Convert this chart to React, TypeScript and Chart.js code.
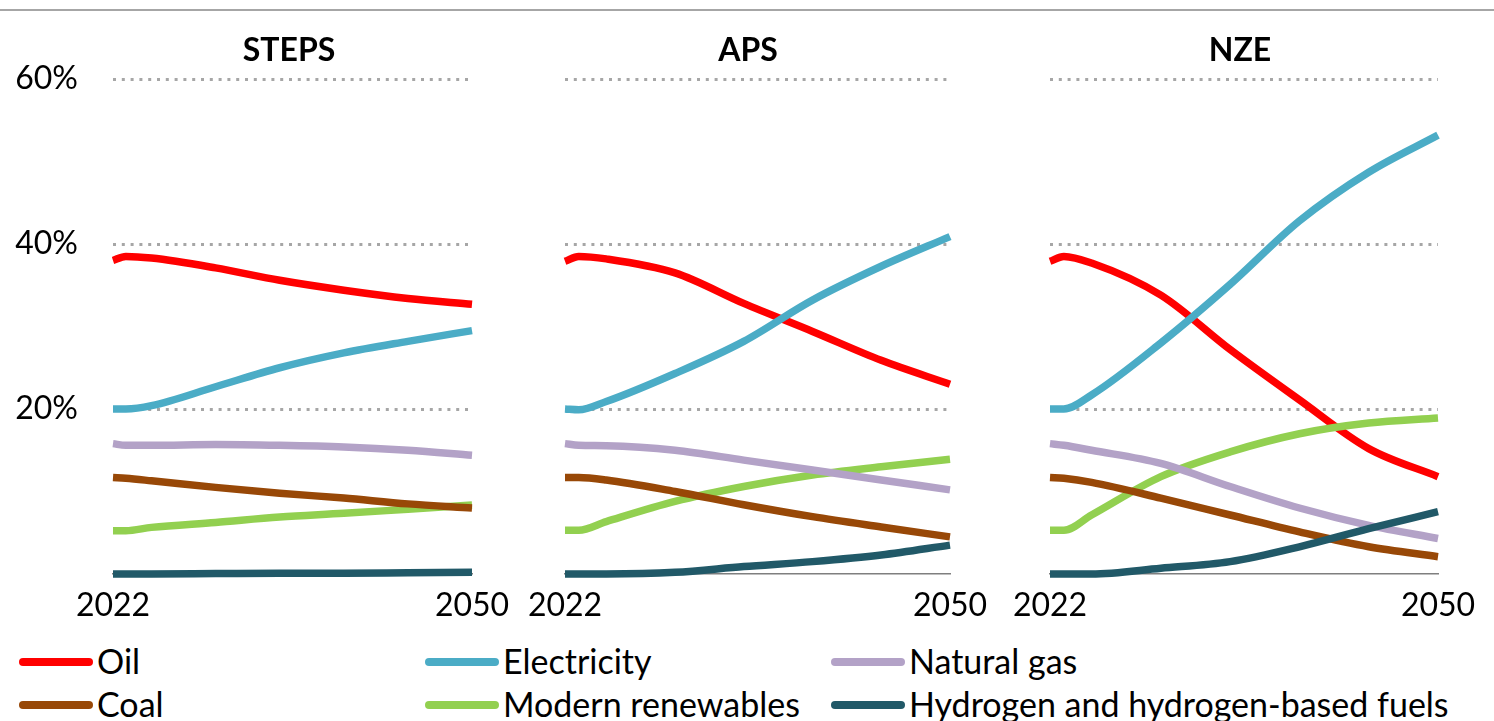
import React, { useEffect, useRef } from "react";
import { Chart, registerables } from "chart.js";

Chart.register(...registerables);

// ---------- DATA ----------
const years = [2022, 2023, 2025, 2030, 2035, 2040, 2045, 2050];
const xTickYears = [2022, 2050];
const yTickValues = [0, 20, 40, 60];

const scenarios = ["STEPS", "APS", "NZE"];
const seriesNames = [
  "Oil",
  "Electricity",
  "Natural gas",
  "Coal",
  "Modern renewables",
  "Hydrogen and hydrogen-based fuels",
];
const seriesColors = ["#FF0000", "#4BACC6", "#B3A2C7", "#984807", "#92D050", "#215968"];

// STEPS (% share)
const stepsOil = [38.0, 38.5, 38.3, 37.1, 35.6, 34.4, 33.4, 32.7];
const stepsElectricity = [20.0, 20.0, 20.4, 22.7, 25.0, 26.8, 28.2, 29.5];
const stepsGas = [15.8, 15.6, 15.6, 15.7, 15.6, 15.4, 15.0, 14.4];
const stepsCoal = [11.7, 11.6, 11.3, 10.5, 9.8, 9.2, 8.5, 8.0];
const stepsRenewables = [5.25, 5.25, 5.65, 6.25, 6.9, 7.35, 7.85, 8.35];
const stepsHydrogen = [0, 0, 0, 0.05, 0.1, 0.1, 0.15, 0.2];

// APS
const apsOil = [37.9, 38.5, 38.2, 36.5, 32.8, 29.4, 25.9, 23.0];
const apsElectricity = [20.0, 19.9, 20.9, 24.3, 28.2, 33.2, 37.3, 40.9];
const apsGas = [15.8, 15.6, 15.55, 15.0, 13.8, 12.6, 11.4, 10.2];
const apsCoal = [11.7, 11.7, 11.4, 10.0, 8.4, 6.95, 5.7, 4.5];
const apsRenewables = [5.3, 5.3, 6.35, 8.8, 10.6, 12.0, 13.0, 13.9];
const apsHydrogen = [0, 0, 0, 0.2, 0.9, 1.5, 2.3, 3.5];

// NZE
const nzeOil = [37.9, 38.5, 37.7, 33.8, 27.2, 21.1, 15.2, 11.8];
const nzeElectricity = [20.0, 20.0, 21.7, 28.0, 35.1, 42.8, 48.7, 53.2];
const nzeGas = [15.8, 15.6, 15.0, 13.4, 10.6, 8.0, 5.9, 4.3];
const nzeCoal = [11.7, 11.6, 11.1, 9.2, 7.15, 5.1, 3.3, 2.1];
const nzeRenewables = [5.3, 5.3, 7.15, 11.8, 14.8, 17.0, 18.3, 18.9];
const nzeHydrogen = [0, 0, 0, 0.7, 1.5, 3.3, 5.5, 7.55];

const scenarioSeries = [
  [stepsOil, stepsElectricity, stepsGas, stepsCoal, stepsRenewables, stepsHydrogen],
  [apsOil, apsElectricity, apsGas, apsCoal, apsRenewables, apsHydrogen],
  [nzeOil, nzeElectricity, nzeGas, nzeCoal, nzeRenewables, nzeHydrogen],
];

// ---------- LAYOUT / STYLE ----------
const FONT = "Lato, 'Open Sans', sans-serif";
const CANVAS_H = 634;
const panels = [
  { left: 0, width: 525, yWidth: 113, padRight: 53, showY: true, titleX: 289 },
  { left: 512, width: 491, yWidth: 53, padRight: 53, showY: false, titleX: 748 },
  { left: 1000, width: 494, yWidth: 50, padRight: 56, showY: false, titleX: 1240 },
];
const legendCols = [19, 425, 831];
const legendRows = [662, 705];

function Panel({ idx }: { idx: number }) {
  const ref = useRef<HTMLCanvasElement | null>(null);
  useEffect(() => {
    const p = panels[idx];
    const datasets = scenarioSeries[idx].map((vals, i) => ({
      label: seriesNames[i],
      data: years.map((yr, j) => ({ x: yr, y: vals[j] })),
      borderColor: seriesColors[i],
      backgroundColor: seriesColors[i],
      borderWidth: 7.5,
      pointRadius: 0,
      cubicInterpolationMode: "monotone" as const,
      borderCapStyle: "butt" as const,
      borderJoinStyle: "round" as const,
      clip: false as any,
    }));
    const ordered = [datasets[5], datasets[3], datasets[2], datasets[4], datasets[1], datasets[0]];
    const chart = new Chart(ref.current!, {
      type: "line",
      data: { datasets: ordered },
      options: {
        animation: false,
        responsive: false,
        events: [],
        layout: { padding: { top: 79, right: p.padRight, bottom: 0, left: 0 } },
        plugins: {
          legend: { display: false },
          tooltip: { enabled: false },
          title: { display: false },
        },
        scales: {
          x: {
            type: "linear",
            min: years[0],
            max: years[years.length - 1],
            afterBuildTicks: (scale: any) => {
              scale.ticks = xTickYears.map((v) => ({ value: v }));
            },
            afterFit: (scale: any) => {
              scale.height = CANVAS_H - 574;
            },
            grid: { display: false, drawTicks: false },
            border: { display: true, color: "#7F7F7F", width: 1.5 },
            ticks: {
              autoSkip: false,
              maxRotation: 0,
              padding: 12,
              color: "#000",
              font: { family: FONT, size: 32 },
              callback: (v: any) => String(v),
            },
          },
          y: {
            type: "linear",
            min: 0,
            max: 60,
            afterBuildTicks: (scale: any) => {
              scale.ticks = yTickValues.map((v) => ({ value: v }));
            },
            afterFit: (scale: any) => {
              scale.width = p.yWidth;
            },
            grid: {
              drawTicks: false,
              lineWidth: 3,
              color: (ctx: any) => (ctx.tick && ctx.tick.value === 0 ? "rgba(0,0,0,0)" : "#A6A6A6"),
            },
            border: { display: false, dash: [3, 5.8] },
            ticks: {
              display: p.showY,
              padding: 35,
              color: "#000",
              font: { family: FONT, size: 32 },
              callback: (v: any) => (v === 0 ? "" : `${v}%`),
            },
          },
        },
      } as any,
    });
    return () => chart.destroy();
  }, [idx]);
  const p = panels[idx];
  return (
    <>
      <canvas
        ref={ref}
        width={p.width}
        height={CANVAS_H}
        style={{ position: "absolute", left: p.left, top: 0, width: p.width, height: CANVAS_H }}
      />
      <div
        style={{
          position: "absolute",
          left: p.titleX - 100,
          width: 200,
          top: 29,
          height: 40,
          lineHeight: "40px",
          textAlign: "center",
          fontFamily: FONT,
          fontWeight: "bold",
          fontSize: 32,
          color: "#000",
        }}
      >
        {scenarios[idx]}
      </div>
    </>
  );
}

export default function App() {
  return (
    <div style={{ position: "absolute", left: 0, top: 0, width: 1494, height: 721, background: "#fff", overflow: "hidden" }}>
      <div style={{ position: "absolute", left: 0, top: 9, width: 1494, height: 2, background: "#A6A6A6" }} />
      {panels.map((_, i) => (
        <Panel key={i} idx={i} />
      ))}
      {seriesNames.map((name, i) => {
        const col = i % 3;
        const row = Math.floor(i / 3);
        const x = legendCols[col];
        const y = legendRows[row];
        return (
          <React.Fragment key={name}>
            <div
              style={{
                position: "absolute",
                left: x,
                top: y - 4,
                width: 74,
                height: 8,
                borderRadius: 4,
                background: seriesColors[i],
              }}
            />
            <div
              style={{
                position: "absolute",
                left: x + 78,
                top: y - 21,
                height: 40,
                lineHeight: "40px",
                fontFamily: FONT,
                fontSize: 34,
                color: "#000",
                whiteSpace: "nowrap",
              }}
            >
              {name}
            </div>
          </React.Fragment>
        );
      })}
    </div>
  );
}
